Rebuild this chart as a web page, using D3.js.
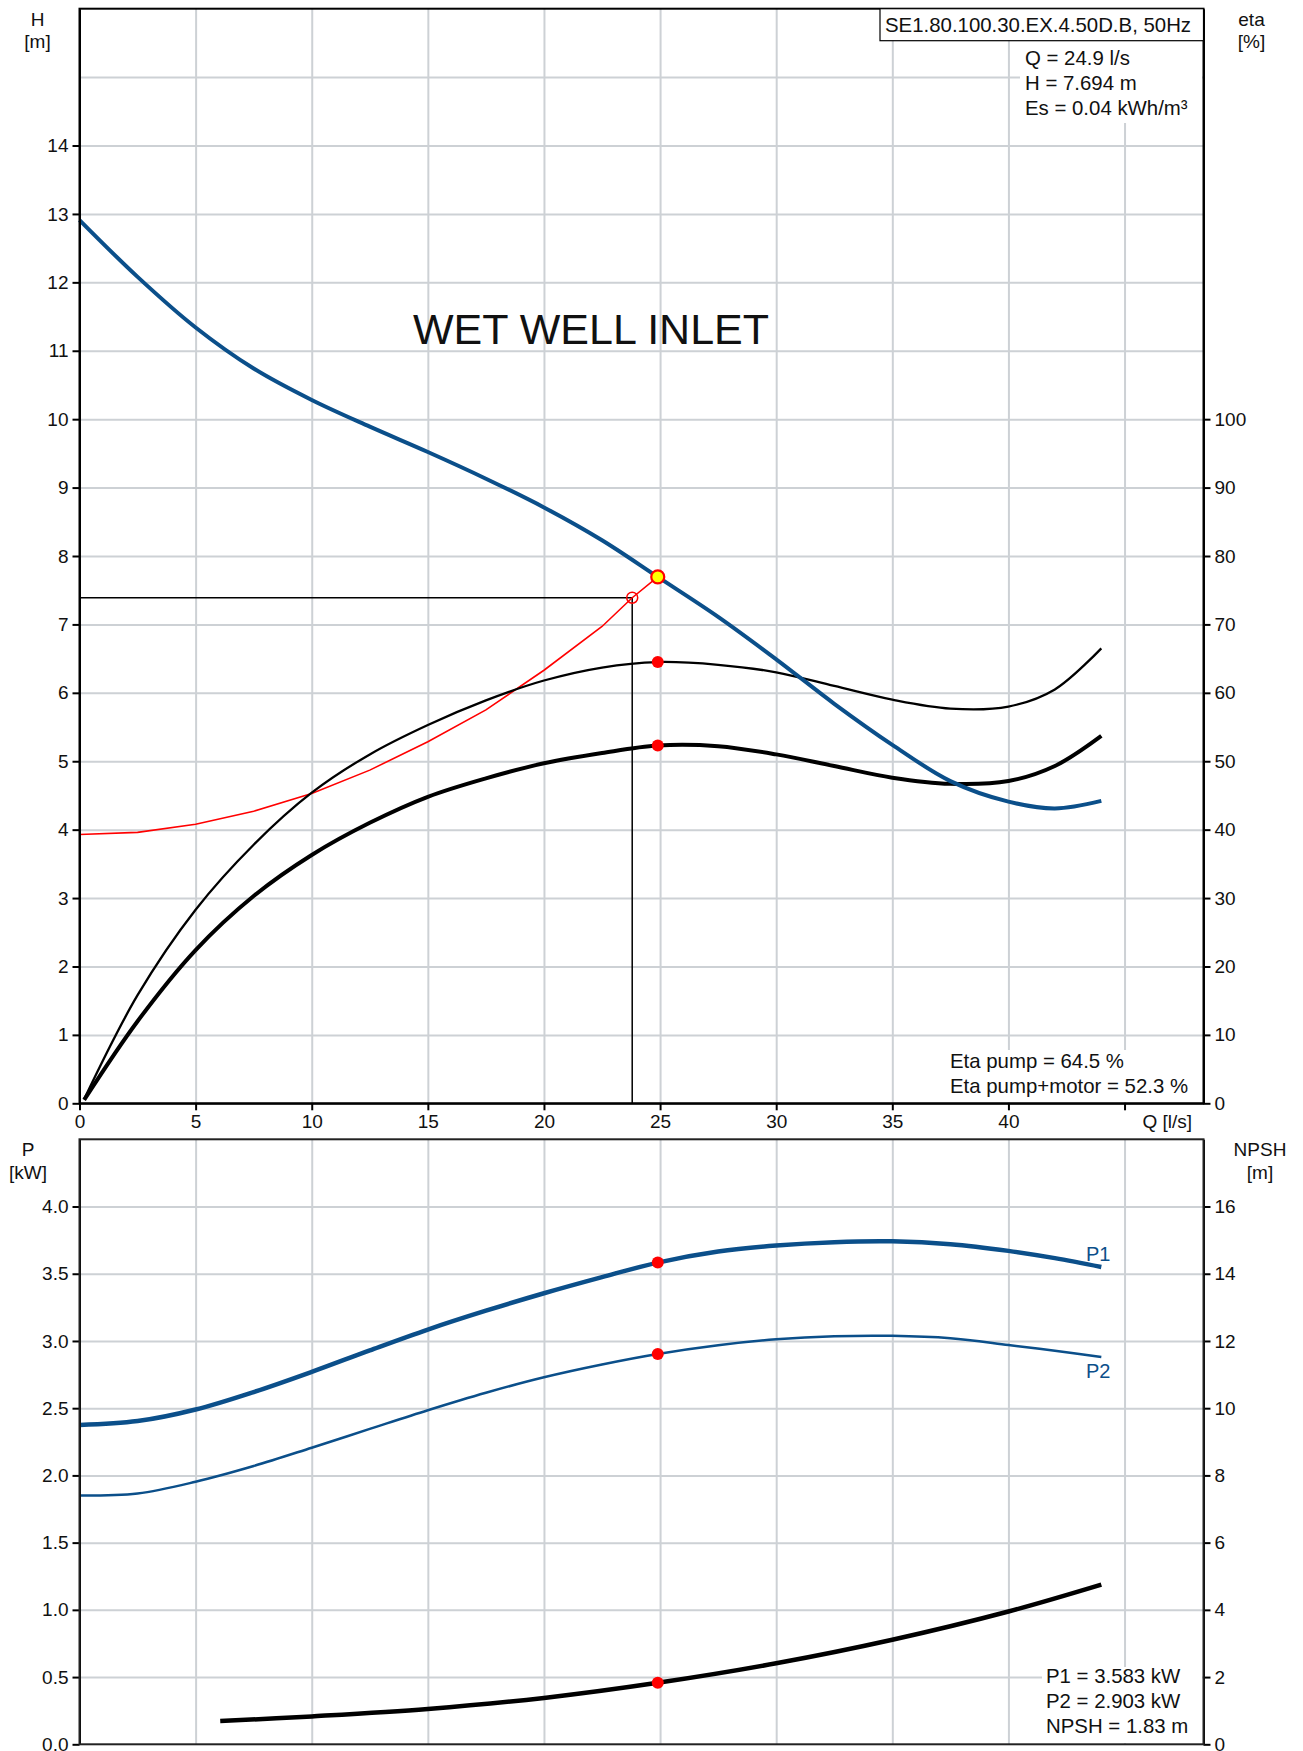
<!DOCTYPE html>
<html lang="en">
  <head>
    <meta charset="utf-8">
    <title>WET WELL INLET</title>
    <script src="https://cdn.jsdelivr.net/npm/d3@7"></script>
    <style>
      body { margin: 0; background: #fff; }
      svg text { font-family: "Liberation Sans", Arial, sans-serif; fill: #111; }
      .grid line { stroke: #cdd1d5; stroke-width: 2; }
      .grid path { display: none; }
      .ax path, .ax line { stroke: #000; stroke-width: 2; }
      .ax text { font-size: 19px; }
    </style>
  </head>
  <body>
    <svg id="chart" width="1303" height="1751"></svg>
  <script type="text/javascript">

    // flow points used for the pump curves
    var qMain = [0, 2.5, 5, 7.5, 10, 12.5, 15, 17.5, 20, 22.5, 24.9, 27.5, 30, 32.5, 35, 37.5, 40, 42, 44];
    var headVals = [12.91, 12.08, 11.34, 10.74, 10.28, 9.89, 9.52, 9.13, 8.71, 8.23, 7.694, 7.11, 6.49, 5.84, 5.24, 4.71, 4.41, 4.31, 4.42];

    var qEta = [0.2, 2.5, 5, 7.5, 10, 12.5, 15, 17.5, 20, 22.5, 24.9, 27.5, 30, 32.5, 35, 37.5, 40, 42, 44];
    var etaPump = [0.6, 15.8, 28.3, 37.8, 45.4, 51.0, 55.3, 58.9, 61.8, 63.7, 64.5, 64.1, 63.0, 61.0, 59.0, 57.7, 58.0, 60.5, 66.5];
    var etaPumpMotor = [0.5, 12.0, 22.4, 30.3, 36.3, 41.0, 44.8, 47.5, 49.7, 51.2, 52.3, 52.2, 51.0, 49.3, 47.6, 46.7, 47.1, 49.3, 53.7];

    // system curve (red)
    var qSys = [0, 2.5, 5, 7.5, 10, 12.5, 15, 17.5, 20, 22.5, 23.8, 24.9];
    var hSys = [3.93, 3.96, 4.08, 4.27, 4.53, 4.87, 5.285, 5.75, 6.33, 6.97, 7.39, 7.694];

    // power curves
    var qPow = [0, 2.5, 5, 7.5, 10, 12.5, 15, 17.5, 20, 22.5, 24.9, 27.5, 30, 32.5, 35, 37.5, 40, 42, 44];
    var p1Vals = [2.375, 2.404, 2.49, 2.62, 2.77, 2.93, 3.085, 3.225, 3.355, 3.475, 3.583, 3.665, 3.71, 3.735, 3.741, 3.72, 3.67, 3.616, 3.55];
    var p2Vals = [1.85, 1.866, 1.953, 2.07, 2.206, 2.346, 2.485, 2.615, 2.73, 2.825, 2.903, 2.968, 3.012, 3.035, 3.038, 3.02, 2.97, 2.927, 2.88];

    var qNpsh = [6.06, 10, 15, 20, 24.9, 30, 35, 40, 44];
    var npshVals = [0.69, 0.83, 1.05, 1.38, 1.83, 2.41, 3.11, 3.95, 4.75];

    // duty point
    var duty = {q: 24.9, h: 7.694, etaP: 64.5, etaPM: 52.3, p1: 3.583, p2: 2.903, npsh: 1.83};
    var reqPoint = {q: 23.8, h: 7.39};

    var qTicks = [0, 5, 10, 15, 20, 25, 30, 35, 40, 45];
    var hTicks = [0, 1, 2, 3, 4, 5, 6, 7, 8, 9, 10, 11, 12, 13, 14];
    var hGrid = [1, 2, 3, 4, 5, 6, 7, 8, 9, 10, 11, 12, 13, 14, 15];
    var etaTicks = [0, 10, 20, 30, 40, 50, 60, 70, 80, 90, 100];
    var pTicks = [0, 0.5, 1, 1.5, 2, 2.5, 3, 3.5, 4];
    var npshTicks = [0, 2, 4, 6, 8, 10, 12, 14, 16];

    var topInfo = ['Q = 24.9 l/s', 'H = 7.694 m', 'Es = 0.04 kWh/m\u00b3'];
    var etaInfo = ['Eta pump = 64.5 %', 'Eta pump+motor = 52.3 %'];
    var powInfo = ['P1 = 3.583 kW', 'P2 = 2.903 kW', 'NPSH = 1.83 m'];

    var blue = '#0b4f8a';
    var svg = d3.select('#chart');
    var smooth = d3.curveCatmullRom.alpha(0.5);

    var left = 79.5, right = 1203.5;
    var x = d3.scaleLinear().domain([0, 48.4]).range([left, right]);
    var yH = d3.scaleLinear().domain([0, 16]).range([1103.3, 8.7]);
    var yEta = d3.scaleLinear().domain([0, 160]).range([1103.3, 8.7]);
    var yP = d3.scaleLinear().domain([0, 4.5]).range([1744.3, 1139.3]);
    var yN = d3.scaleLinear().domain([0, 18]).range([1744.3, 1139.3]);

    function pts(xs, ys) {
      return xs.map(function(d, i) { return [d, ys[i]]; });
    }

    // ---------- grids
    svg.append('g').attr('class', 'grid')
      .attr('transform', 'translate(0,' + yH(0) + ')')
      .call(d3.axisBottom(x).tickValues(qTicks.slice(1)).tickSize(-(yH(0) - yH(16))).tickFormat(''));
    svg.append('g').attr('class', 'grid')
      .attr('transform', 'translate(' + left + ',0)')
      .call(d3.axisLeft(yH).tickValues(hGrid).tickSize(-(right - left)).tickFormat(''));
    svg.append('g').attr('class', 'grid')
      .attr('transform', 'translate(0,' + yP(0) + ')')
      .call(d3.axisBottom(x).tickValues(qTicks.slice(1)).tickSize(-(yP(0) - yP(4.5))).tickFormat(''));
    svg.append('g').attr('class', 'grid')
      .attr('transform', 'translate(' + left + ',0)')
      .call(d3.axisLeft(yP).tickValues(pTicks.slice(1)).tickSize(-(right - left)).tickFormat(''));

    // ---------- top chart curves
    var lineH = d3.line().x(function(d) { return x(d[0]); }).y(function(d) { return yH(d[1]); }).curve(smooth);
    var lineEta = d3.line().x(function(d) { return x(d[0]); }).y(function(d) { return yEta(d[1]); }).curve(smooth);
    var lineSys = d3.line().x(function(d) { return x(d[0]); }).y(function(d) { return yH(d[1]); });

    // guide lines to the required point
    svg.append('path')
      .attr('d', 'M' + x(0) + ',' + yH(reqPoint.h) + 'H' + x(reqPoint.q) + 'V' + yH(0))
      .attr('fill', 'none').attr('stroke', '#000').attr('stroke-width', 1.5);

    svg.append('path').attr('d', lineSys(pts(qSys, hSys)))
      .attr('fill', 'none').attr('stroke', '#ff0000').attr('stroke-width', 1.6);
    svg.append('path').attr('d', lineEta(pts(qEta, etaPump)))
      .attr('fill', 'none').attr('stroke', '#000').attr('stroke-width', 2.3);
    svg.append('path').attr('d', lineEta(pts(qEta, etaPumpMotor)))
      .attr('fill', 'none').attr('stroke', '#000').attr('stroke-width', 4);
    svg.append('path').attr('d', lineH(pts(qMain, headVals)))
      .attr('fill', 'none').attr('stroke', blue).attr('stroke-width', 4);

    svg.append('circle').attr('cx', x(reqPoint.q)).attr('cy', yH(reqPoint.h)).attr('r', 5.5)
      .attr('fill', 'none').attr('stroke', '#ff0000').attr('stroke-width', 1.5);
    svg.append('circle').attr('cx', x(duty.q)).attr('cy', yEta(duty.etaP)).attr('r', 6).attr('fill', '#ff0000');
    svg.append('circle').attr('cx', x(duty.q)).attr('cy', yEta(duty.etaPM)).attr('r', 6).attr('fill', '#ff0000');
    svg.append('circle').attr('cx', x(duty.q)).attr('cy', yH(duty.h)).attr('r', 6.5)
      .attr('fill', '#ffff00').attr('stroke', '#ff0000').attr('stroke-width', 2.2);

    // ---------- bottom chart curves
    var lineP = d3.line().x(function(d) { return x(d[0]); }).y(function(d) { return yP(d[1]); }).curve(smooth);
    var lineN = d3.line().x(function(d) { return x(d[0]); }).y(function(d) { return yN(d[1]); }).curve(smooth);

    svg.append('path').attr('d', lineP(pts(qPow, p1Vals)))
      .attr('fill', 'none').attr('stroke', blue).attr('stroke-width', 4.5);
    svg.append('path').attr('d', lineP(pts(qPow, p2Vals)))
      .attr('fill', 'none').attr('stroke', blue).attr('stroke-width', 2.5);
    svg.append('path').attr('d', lineN(pts(qNpsh, npshVals)))
      .attr('fill', 'none').attr('stroke', '#000').attr('stroke-width', 4.5);

    svg.append('circle').attr('cx', x(duty.q)).attr('cy', yP(duty.p1)).attr('r', 6).attr('fill', '#ff0000');
    svg.append('circle').attr('cx', x(duty.q)).attr('cy', yP(duty.p2)).attr('r', 6).attr('fill', '#ff0000');
    svg.append('circle').attr('cx', x(duty.q)).attr('cy', yN(duty.npsh)).attr('r', 6).attr('fill', '#ff0000');

    svg.append('text').attr('x', 1086).attr('y', 1261).attr('font-size', 20).style('fill', blue).text('P1');
    svg.append('text').attr('x', 1086).attr('y', 1378).attr('font-size', 20).style('fill', blue).text('P2');

    // ---------- axes
    svg.append('g').attr('class', 'ax')
      .attr('transform', 'translate(' + left + ',0)')
      .call(d3.axisLeft(yH).tickValues(hTicks).tickSize(7).tickPadding(4).tickSizeOuter(0));
    svg.append('g').attr('class', 'ax')
      .attr('transform', 'translate(' + right + ',0)')
      .call(d3.axisRight(yEta).tickValues(etaTicks).tickSize(7).tickPadding(4).tickSizeOuter(0));
    svg.append('g').attr('class', 'ax')
      .attr('transform', 'translate(0,' + yH(0) + ')')
      .call(d3.axisBottom(x).tickValues(qTicks).tickSize(7).tickPadding(4).tickSizeOuter(0)
        .tickFormat(function(d) { return d === 45 ? '' : d; }));
    svg.append('g').attr('class', 'ax')
      .attr('transform', 'translate(' + left + ',0)')
      .call(d3.axisLeft(yP).tickValues(pTicks).tickSize(7).tickPadding(4).tickSizeOuter(0).tickFormat(d3.format('.1f')));
    svg.append('g').attr('class', 'ax')
      .attr('transform', 'translate(' + right + ',0)')
      .call(d3.axisRight(yN).tickValues(npshTicks).tickSize(7).tickPadding(4).tickSizeOuter(0));

    // frames
    svg.append('rect').attr('x', left).attr('y', yH(16)).attr('width', right - left).attr('height', yH(0) - yH(16))
      .attr('fill', 'none').attr('stroke', '#000').attr('stroke-width', 2);
    svg.append('rect').attr('x', left).attr('y', yP(4.5)).attr('width', right - left).attr('height', yP(0) - yP(4.5))
      .attr('fill', 'none').attr('stroke', '#222').attr('stroke-width', 2);

    // axis titles
    function twoLine(cx, y1, a, b) {
      svg.append('text').attr('x', cx).attr('y', y1).attr('text-anchor', 'middle').attr('font-size', 19).text(a);
      svg.append('text').attr('x', cx).attr('y', y1 + 22.5).attr('text-anchor', 'middle').attr('font-size', 19).text(b);
    }
    twoLine(37.5, 25.5, 'H', '[m]');
    twoLine(1251.5, 25.5, 'eta', '[%]');
    twoLine(28, 1156, 'P', '[kW]');
    twoLine(1260, 1156, 'NPSH', '[m]');
    svg.append('text').attr('x', 1192).attr('y', 1128).attr('text-anchor', 'end').attr('font-size', 19).text('Q [l/s]');

    // ---------- annotations
    function infoBlock(lines, xText, yFirst, box) {
      svg.append('rect').attr('x', box[0]).attr('y', box[1]).attr('width', box[2]).attr('height', box[3]).attr('fill', '#fff');
      lines.forEach(function(t, i) {
        svg.append('text').attr('x', xText).attr('y', yFirst + i * 25).attr('font-size', 20.4).text(t);
      });
    }
    infoBlock(topInfo, 1025, 65, [1020, 41, 182, 82]);
    infoBlock(etaInfo, 950, 1068, [945, 1050, 257, 52]);
    infoBlock(powInfo, 1046, 1683.3, [1042, 1667, 160, 76]);

    // model box
    svg.append('rect').attr('x', 880).attr('y', 8.7).attr('width', right - 880).attr('height', 32)
      .attr('fill', '#fff').attr('stroke', '#000').attr('stroke-width', 1.2);
    svg.append('text').attr('x', 885).attr('y', 31.5).attr('font-size', 20.4).text('SE1.80.100.30.EX.4.50D.B, 50Hz');

    svg.append('text').attr('x', 413).attr('y', 343.5).attr('font-size', 43).text('WET WELL INLET');

  </script>
  </body>
</html>
